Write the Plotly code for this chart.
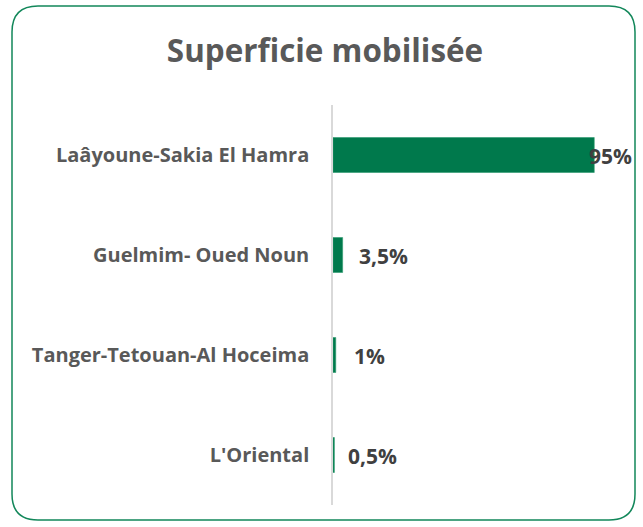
import plotly.graph_objects as go

regions = ["Laâyoune-Sakia El Hamra", "Guelmim- Oued Noun", "Tanger-Tetouan-Al Hoceima", "L'Oriental"]
values = [95, 3.5, 1, 0.5]
value_labels = ["95%", "3,5%", "1%", "0,5%"]

W, H = 643, 527
ML, MR, MT, MB = 333, 35, 105, 22
pw, ph = W - ML - MR, H - MT - MB
FONT = "Open Sans"

def px(x):
    return (x - ML) / pw

def py(y):
    return (H - MB - y) / ph

fig = go.Figure(go.Bar(
    y=regions, x=values, orientation="h",
    marker=dict(color="#00794C", line=dict(color="#2E9A6E", width=0.6)),
    width=0.35, hoverinfo="skip",
))

shifts = [-7, 14, 16, 12]
for r, v, t, s in zip(regions, values, value_labels, shifts):
    fig.add_annotation(x=v, y=r, text="<b>%s</b>" % t, showarrow=False,
                       xanchor="left", xshift=s, yshift=-1,
                       font=dict(family=FONT, size=21, color="#404040"))

# rounded border
L, R, T, B, rad = 12, 635, 6, 520, 26
path = (f"M {px(L+rad)},{py(T)} L {px(R-rad)},{py(T)} "
        f"Q {px(R)},{py(T)} {px(R)},{py(T+rad)} "
        f"L {px(R)},{py(B-rad)} Q {px(R)},{py(B)} {px(R-rad)},{py(B)} "
        f"L {px(L+rad)},{py(B)} Q {px(L)},{py(B)} {px(L)},{py(B-rad)} "
        f"L {px(L)},{py(T+rad)} Q {px(L)},{py(T)} {px(L+rad)},{py(T)} Z")
fig.add_shape(type="path", path=path, xref="paper", yref="paper",
              line=dict(color="#12875A", width=1.5), layer="below")

fig.update_layout(
    width=W, height=H,
    margin=dict(l=ML, r=MR, t=MT, b=MB),
    paper_bgcolor="white", plot_bgcolor="white",
    showlegend=False,
    title=dict(text="<b>Superficie mobilisée</b>", x=325 / W, xanchor="center",
               y=1 - 51 / H, yanchor="middle",
               font=dict(family=FONT, size=31.4, color="#595959")),
    xaxis=dict(range=[0, 100], visible=False, fixedrange=True),
    yaxis=dict(autorange="reversed", showline=True, linecolor="#D9D9D9", linewidth=1.5,
               showgrid=False, zeroline=False, ticks="", ticklabelstandoff=18,
               tickfont=dict(family=FONT, size=20, color="#595959"),
               tickvals=regions, ticktext=["<b>%s</b>" % r for r in regions]),
    bargap=0.65,
)

fig.write_html("out.html", config={"displayModeBar": False},
               post_script="document.body.style.margin='0';")
